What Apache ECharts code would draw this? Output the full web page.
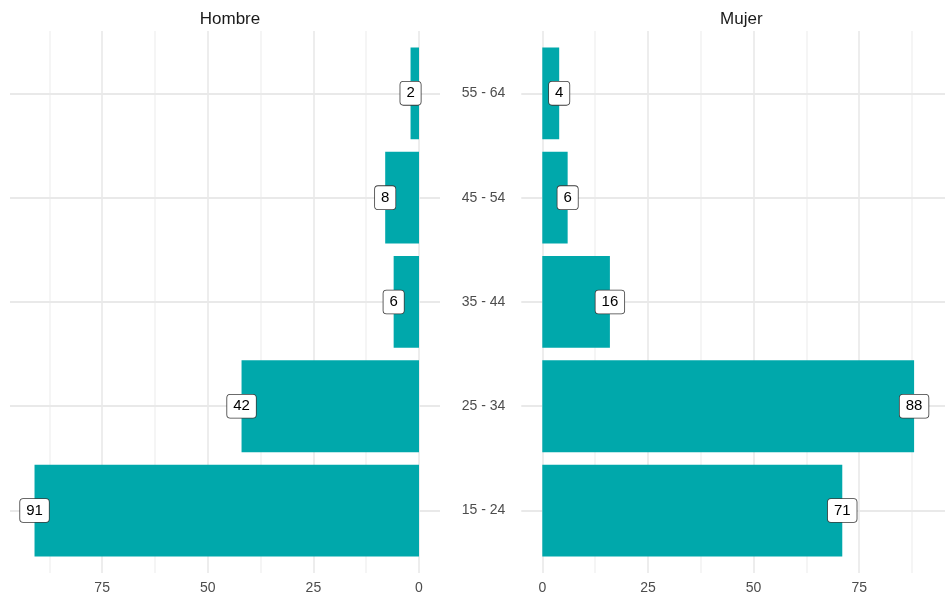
<!DOCTYPE html>
<html>
<head>
<meta charset="utf-8">
<title>Hombre / Mujer por grupo de edad</title>
<script src="https://cdn.jsdelivr.net/npm/echarts@6/dist/echarts.min.js"></script>
<style>
  html, body { margin: 0; padding: 0; background: #ffffff; }
  #chart { width: 945px; height: 598px; }
</style>
</head>
<body>
<div id="chart"></div>
<script>
// Age groups, listed bottom to top
const ageGroups = ['15 - 24', '25 - 34', '35 - 44', '45 - 54', '55 - 64'];
const hombre = [91, 42, 6, 8, 2];
const mujer = [71, 88, 16, 6, 4];
const panelTitles = ['Hombre', 'Mujer'];

// Shared value range of both panels and the gridline step (major every other line)
const valueMin = -4.97;
const valueMax = 96.8;
const gridStep = 12.5;
const gridMax = 87.5;

// Layout (pixels)
const pxPerUnit = 4.225;
const leftZero = 419;
const rightZero = 542.3;
const panelTop = 31, panelBottom = 573;
const bandTop = 41.2, bandBottom = 562.7;
const W = 945, H = 598;

const FONT = 'Liberation Sans, Arial, sans-serif';
const BAR = '#00a8ab';
const MAJOR = '#e9e9e9';
const MINOR = '#f3f3f3';

const leftPanelL = leftZero - valueMax * pxPerUnit;
const leftPanelR = leftZero - valueMin * pxPerUnit;
const rightPanelL = rightZero + valueMin * pxPerUnit;
const rightPanelR = rightZero + valueMax * pxPerUnit;   // runs a little past the canvas edge
// the right panel is cut at the canvas edge, so its axis stops where the canvas does
const rightVisibleMax = (W - rightZero) / pxPerUnit;

const chart = echarts.init(document.getElementById('chart'), null, { renderer: 'canvas' });

const valueLabel = {
  show: true,
  position: 'inside',
  formatter: p => String(p.value[0]),
  color: '#000000',
  fontSize: 15,
  fontFamily: FONT,
  backgroundColor: '#ffffff',
  borderColor: '#3a3a3a',
  borderWidth: 0.8,
  borderRadius: 3,
  padding: [4, 6, 3, 6],
  lineHeight: 16
};

function rowLines() {
  return {
    silent: true,
    z: 1,
    symbol: 'none',
    label: { show: false },
    emphasis: { disabled: true },
    lineStyle: { color: MAJOR, width: 2, type: 'solid' },
    data: ageGroups.map(g => ({ yAxis: g }))
  };
}

const tickLabel = {
  margin: 8, fontSize: 14, fontFamily: FONT, color: '#4d4d4d',
  formatter: v => (v % 25 === 0 ? String(v) : '')
};

const option = {
  backgroundColor: '#ffffff',
  animation: false,
  title: [
    { text: panelTitles[0], left: (leftPanelL + leftPanelR) / 2, top: 6, textAlign: 'center',
      textStyle: { fontFamily: FONT, fontSize: 17, fontWeight: 'normal', color: '#1a1a1a' } },
    { text: panelTitles[1], left: (rightPanelL + rightPanelR) / 2, top: 6, textAlign: 'center',
      textStyle: { fontFamily: FONT, fontSize: 17, fontWeight: 'normal', color: '#1a1a1a' } }
  ],
  grid: [
    // 0: left panel vertical gridlines + tick labels (0 .. 87.5)
    { left: leftZero - gridMax * pxPerUnit, width: gridMax * pxPerUnit, top: panelTop, height: panelBottom - panelTop },
    // 1: right panel vertical gridlines + tick labels
    { left: rightZero, width: gridMax * pxPerUnit, top: panelTop, height: panelBottom - panelTop },
    // 2: left panel bars
    { left: leftPanelL, width: leftPanelR - leftPanelL, top: bandTop, height: bandBottom - bandTop },
    // 3: right panel bars
    { left: rightPanelL, width: W - rightPanelL, top: bandTop, height: bandBottom - bandTop }
  ],
  xAxis: [
    { gridIndex: 0, type: 'value', inverse: true, min: 0, max: gridMax, interval: gridStep,
      axisLine: { show: false }, axisTick: { show: false }, axisLabel: tickLabel,
      splitLine: { show: true, lineStyle: { color: [MAJOR, MINOR], width: 1.6 } } },
    { gridIndex: 1, type: 'value', min: 0, max: gridMax, interval: gridStep,
      axisLine: { show: false }, axisTick: { show: false }, axisLabel: tickLabel,
      splitLine: { show: true, lineStyle: { color: [MAJOR, MINOR], width: 1.6 } } },
    { gridIndex: 2, type: 'value', inverse: true, min: valueMin, max: valueMax,
      axisLine: { show: false }, axisTick: { show: false }, axisLabel: { show: false }, splitLine: { show: false } },
    { gridIndex: 3, type: 'value', min: valueMin, max: rightVisibleMax,
      axisLine: { show: false }, axisTick: { show: false }, axisLabel: { show: false }, splitLine: { show: false } }
  ],
  yAxis: [
    { gridIndex: 0, type: 'value', min: 0, max: 1, show: false, splitLine: { show: false } },
    { gridIndex: 1, type: 'value', min: 0, max: 1, show: false, splitLine: { show: false } },
    { gridIndex: 2, type: 'category', data: ageGroups,
      axisLine: { show: false }, axisTick: { show: false }, axisLabel: { show: false }, splitLine: { show: false } },
    { gridIndex: 3, type: 'category', data: ageGroups,
      axisLine: { show: false }, axisTick: { show: false }, splitLine: { show: false },
      axisLabel: { margin: 16, fontSize: 14, fontFamily: FONT, color: '#4d4d4d' } }
  ],
  series: [
    // horizontal gridlines at each age group, drawn under the bars
    { type: 'line', xAxisIndex: 2, yAxisIndex: 2, data: [], z: 1, markLine: rowLines() },
    { type: 'line', xAxisIndex: 3, yAxisIndex: 3, data: [], z: 1, markLine: rowLines() },
    // bars
    { name: 'Hombre', type: 'bar', xAxisIndex: 2, yAxisIndex: 2, data: hombre, barWidth: '88%', z: 3,
      itemStyle: { color: BAR } },
    { name: 'Mujer', type: 'bar', xAxisIndex: 3, yAxisIndex: 3, data: mujer, barWidth: '88%', z: 3,
      itemStyle: { color: BAR } },
    // value labels at the bar ends
    { type: 'scatter', xAxisIndex: 2, yAxisIndex: 2, symbolSize: 0, z: 5, silent: true,
      itemStyle: { opacity: 1 },
      data: hombre.map((v, i) => [v, ageGroups[i]]), label: valueLabel },
    { type: 'scatter', xAxisIndex: 3, yAxisIndex: 3, symbolSize: 0, z: 5, silent: true,
      itemStyle: { opacity: 1 },
      data: mujer.map((v, i) => [v, ageGroups[i]]), label: valueLabel }
  ]
};

chart.setOption(option);
</script>
</body>
</html>
